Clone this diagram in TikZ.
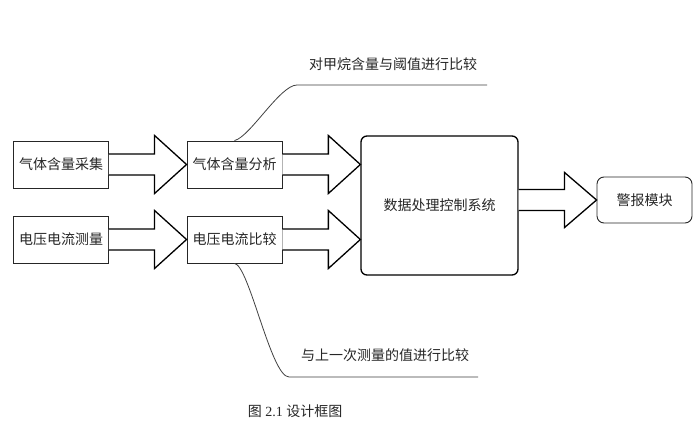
\documentclass[tikz,border=0pt]{standalone}
\usepackage{fontspec}
\setmainfont{Liberation Serif}
\newfontfamily\cjk{Noto Sans CJK SC}
\usetikzlibrary{calc}
\tikzset{
  box/.style={draw=black!85, line width=0.9pt, fill=white, minimum width=95pt, minimum height=47pt, inner sep=0pt, font=\cjk\fontsize{14}{16}\selectfont, text=black!85},
  bigbox/.style={draw=black, line width=1.3pt, rounded corners=6pt, fill=white, minimum width=157pt, minimum height=139pt, inner sep=0pt, font=\cjk\fontsize{14}{16}\selectfont, text=black!85},
  alarmbox/.style={draw=black!85, line width=0.9pt, rounded corners=7pt, fill=white, minimum width=95pt, minimum height=46pt, inner sep=0pt, font=\cjk\fontsize{14}{16}\selectfont, text=black!85},
  barrow/.style={draw=black, line width=1.3pt, fill=white, line join=miter},
  note/.style={font=\cjk\fontsize{14}{16}\selectfont, text=black!85, inner sep=0pt},
  curve/.style={draw=black!75, line width=0.8pt}
}
\newcommand\blockarr[4]{%
  \draw[barrow] let \p1=(#1.east), \p2=(#2.west), \p3=(#3) in
    (\x1,\y3+10.5pt) -- (\x2-32pt,\y3+10.5pt) -- (\x2-32pt,\y3+#4) -- (\x2,\y3)
    -- (\x2-32pt,\y3-#4) -- (\x2-32pt,\y3-10.5pt) -- (\x1,\y3-10.5pt);}
\begin{document}
\begin{tikzpicture}[x=1pt,y=-1pt]
\useasboundingbox[fill=white] (0,0) rectangle (698,423);
\node[box] (gc) at (61,164.5) {气体含量采集};
\node[box] (vm) at (61,239.5) {电压电流测量};
\node[box] (ga) at (234.5,164.5) {气体含量分析};
\node[box] (vc) at (234.5,239.5) {电压电流比较};
\node[bigbox] (dp) at (439.5,205.5) {数据处理控制系统};
\node[alarmbox] (al) at (644.5,200) {警报模块};
\blockarr{gc}{ga}{gc}{29pt}
\blockarr{vm}{vc}{vm}{29pt}
\blockarr{ga}{dp}{ga}{29pt}
\blockarr{vc}{dp}{vc}{29pt}
\blockarr{dp}{al}{al}{27.5pt}
\coordinate (t1) at (297,85);
\coordinate (t2) at (487,85);
\draw[curve] (ga.north) .. controls (250,137) and (280,85) .. (t1) -- (t2);
\node[note] (lt) at (393,64) {对甲烷含量与阈值进行比较};
\coordinate (b1) at (289,377);
\coordinate (b2) at (478,377);
\draw[curve] (vc.south) .. controls (249,265) and (271,377) .. (b1) -- (b2);
\node[note] (lb) at (385,355) {与上一次测量的值进行比较};
\node[inner sep=0pt, text=black!85, font=\fontsize{14}{16}\selectfont] (cap) at (295,411) {{\cjk 图} 2.1 {\cjk 设计框图}};
\end{tikzpicture}
\end{document}
